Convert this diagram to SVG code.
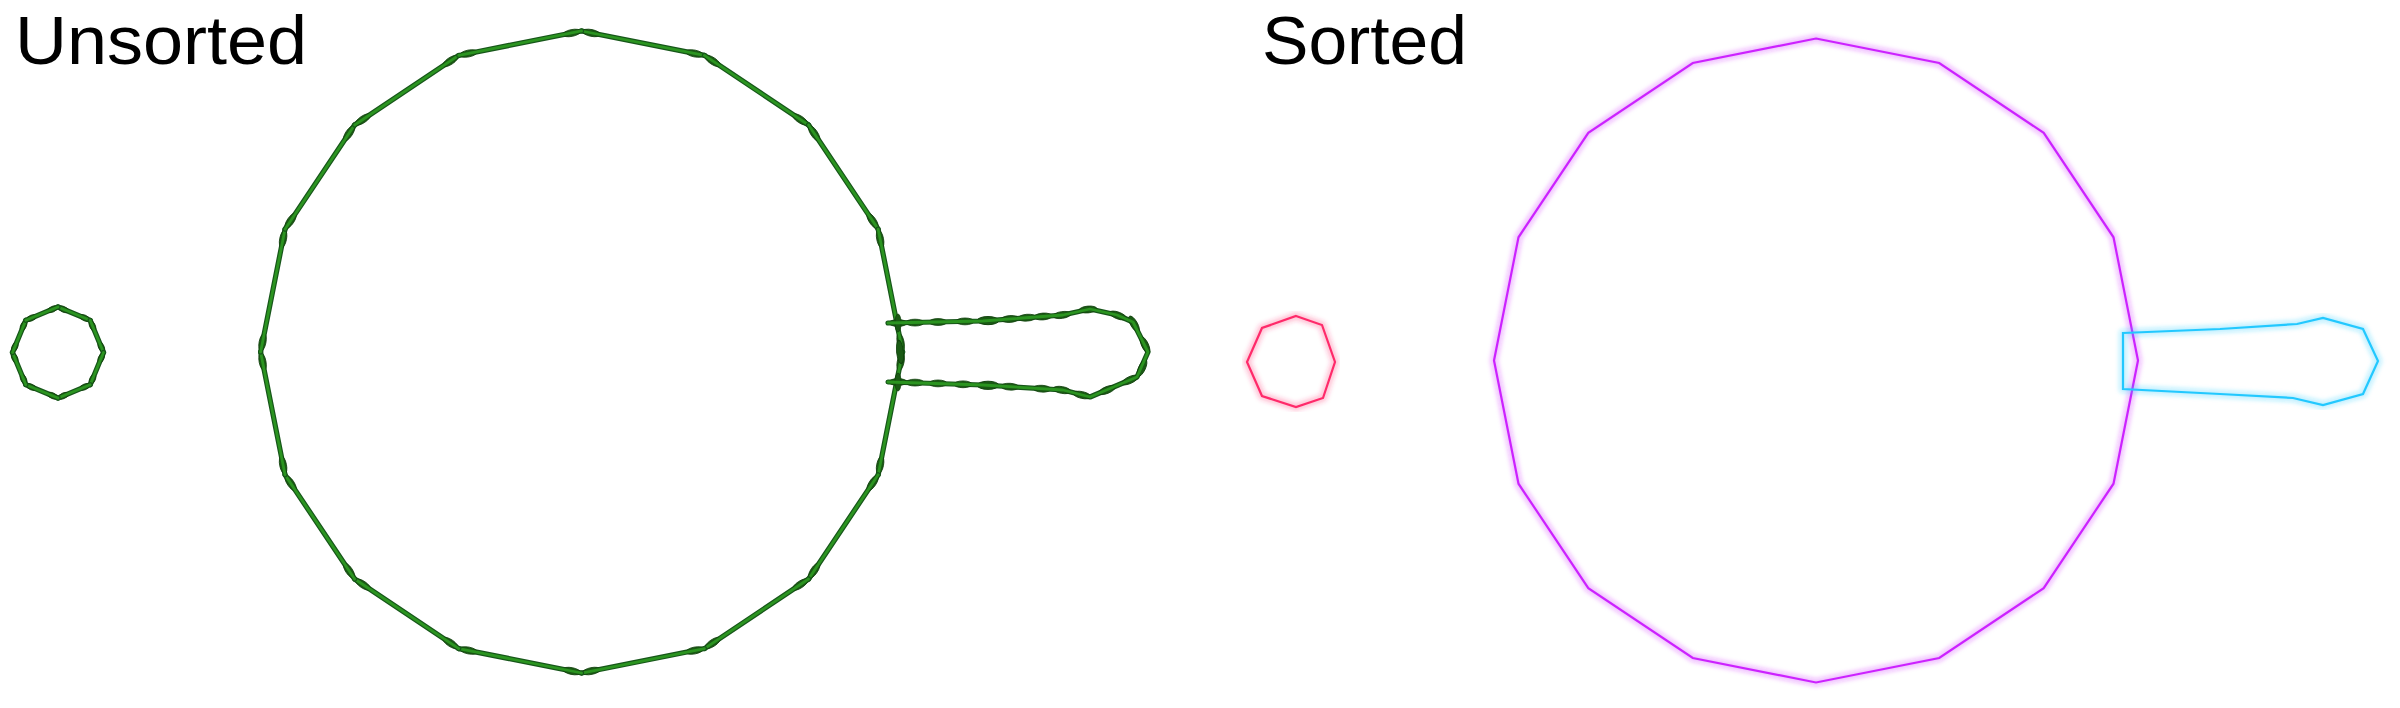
<svg xmlns="http://www.w3.org/2000/svg" xmlns:xlink="http://www.w3.org/1999/xlink" width="2400" height="708" viewBox="0 0 2400 708">
<style>
.title{font-family:"Liberation Sans",Arial,sans-serif;font-size:68px;fill:#000}
.gdark{fill:none;stroke:#17561a;stroke-width:5.2;stroke-linejoin:round;stroke-linecap:round}
.glite{fill:none;stroke:#2b9420;stroke-width:2.8;stroke-linejoin:round;stroke-linecap:round}
.blob{fill:#1a5a14;stroke:#10400c;stroke-width:0.8}
.glow{fill:none;stroke-width:8;stroke-opacity:0.28;stroke-linejoin:round}
.line{fill:none;stroke-width:2.2;stroke-linejoin:miter}
.purple{stroke:#cc22ff}
.red{stroke:#ff2a6a}
.cyan{stroke:#22c8ff}
</style>
<defs>
<filter id="blur" x="-5%" y="-5%" width="110%" height="110%"><feGaussianBlur stdDeviation="2.2"/></filter>
<ellipse id="b" cx="0" cy="0" rx="9" ry="3.4" class="blob"/>
<ellipse id="bs" cx="0" cy="0" rx="5" ry="2.8" class="blob"/>
<g id="edgeBig">
<path d="M0,-321 L122.8,-296.6" class="gdark"/>
<use xlink:href="#b" transform="translate(9.8,-319.05) rotate(11.25)"/>
<use xlink:href="#b" transform="translate(113,-298.5) rotate(11.25)"/>
<path d="M0,-321 L122.8,-296.6" class="glite"/>
</g>
<g id="edgeSmall">
<path d="M0,-45.5 L32.2,-32.2" class="gdark"/>
<use xlink:href="#bs" transform="translate(5.5,-43.2) rotate(22.5)"/>
<use xlink:href="#bs" transform="translate(26.7,-34.5) rotate(22.5)"/>
<path d="M0,-45.5 L32.2,-32.2" class="glite"/>
</g>
</defs>
<rect width="2400" height="708" fill="#fff"/>

<g id="title-unsorted"><text class="title" x="15" y="64" textLength="292" lengthAdjust="spacingAndGlyphs">Unsorted</text></g>
<g id="title-sorted"><text class="title" x="1262" y="64" textLength="205" lengthAdjust="spacingAndGlyphs">Sorted</text></g>

<g id="unsorted-small">
<g transform="translate(58,352.5)">
<use xlink:href="#edgeSmall"/>
<use xlink:href="#edgeSmall" transform="rotate(45)"/>
<use xlink:href="#edgeSmall" transform="rotate(90)"/>
<use xlink:href="#edgeSmall" transform="rotate(135)"/>
<use xlink:href="#edgeSmall" transform="rotate(180)"/>
<use xlink:href="#edgeSmall" transform="rotate(225)"/>
<use xlink:href="#edgeSmall" transform="rotate(270)"/>
<use xlink:href="#edgeSmall" transform="rotate(315)"/>
</g>
</g>

<g id="unsorted-big">
<g transform="translate(581.6,352)">
<use xlink:href="#edgeBig"/>
<use xlink:href="#edgeBig" transform="rotate(22.5)"/>
<use xlink:href="#edgeBig" transform="rotate(45)"/>
<use xlink:href="#edgeBig" transform="rotate(67.5)"/>
<use xlink:href="#edgeBig" transform="rotate(90)"/>
<use xlink:href="#edgeBig" transform="rotate(112.5)"/>
<use xlink:href="#edgeBig" transform="rotate(135)"/>
<use xlink:href="#edgeBig" transform="rotate(157.5)"/>
<use xlink:href="#edgeBig" transform="rotate(180)"/>
<use xlink:href="#edgeBig" transform="rotate(202.5)"/>
<use xlink:href="#edgeBig" transform="rotate(225)"/>
<use xlink:href="#edgeBig" transform="rotate(247.5)"/>
<use xlink:href="#edgeBig" transform="rotate(270)"/>
<use xlink:href="#edgeBig" transform="rotate(292.5)"/>
<use xlink:href="#edgeBig" transform="rotate(315)"/>
<use xlink:href="#edgeBig" transform="rotate(337.5)"/>
</g>
</g>

<g id="unsorted-tail">
<path d="M888,323 L983,321 L1063,315 L1090,309 L1117,315 L1133,322 L1148,352 L1137,377 L1090,397 L1063,390 L983,385 L888,382" class="gdark"/>
<use xlink:href="#b" transform="translate(898,323)"/>
<use xlink:href="#b" transform="translate(898,323) rotate(90) scale(1,0.9)"/>
<use xlink:href="#b" transform="translate(898,382)"/>
<use xlink:href="#b" transform="translate(898,382) rotate(90) scale(1,0.9)"/>
<use xlink:href="#b" transform="translate(900,352) rotate(84) scale(1.3,1)"/>
<use xlink:href="#b" transform="translate(915,322.6)"/>
<use xlink:href="#b" transform="translate(938,322)"/>
<use xlink:href="#b" transform="translate(965,321.4)"/>
<use xlink:href="#b" transform="translate(988,320.6) scale(1.2,1.2)"/>
<use xlink:href="#b" transform="translate(1010,319) rotate(-4)"/>
<use xlink:href="#b" transform="translate(1027,317.7) rotate(-4)"/>
<use xlink:href="#b" transform="translate(1043,316.5) rotate(-4)"/>
<use xlink:href="#b" transform="translate(1062,315) rotate(-8)"/>
<use xlink:href="#b" transform="translate(1088,309.5) rotate(-5)"/>
<use xlink:href="#b" transform="translate(1118,315.5) rotate(20)"/>
<use xlink:href="#b" transform="translate(1134,324) rotate(60)"/>
<use xlink:href="#b" transform="translate(1145,345) rotate(65)"/>
<use xlink:href="#b" transform="translate(1142,368) rotate(-65)"/>
<use xlink:href="#b" transform="translate(915,382.6)"/>
<use xlink:href="#b" transform="translate(938,383.4)"/>
<use xlink:href="#b" transform="translate(963,384.3)"/>
<use xlink:href="#b" transform="translate(988,385.3) scale(1.2,1.2)"/>
<use xlink:href="#b" transform="translate(1010,386.7) rotate(3)"/>
<use xlink:href="#b" transform="translate(1042,388.7) rotate(3)"/>
<use xlink:href="#b" transform="translate(1062,390) rotate(10)"/>
<use xlink:href="#b" transform="translate(1082,395) rotate(12)"/>
<use xlink:href="#b" transform="translate(1107,390) rotate(-22)"/>
<use xlink:href="#b" transform="translate(1130,380) rotate(-25)"/>
<path d="M888,323 L983,321 L1063,315 L1090,309 L1117,315 L1133,322 L1148,352 L1137,377 L1090,397 L1063,390 L983,385 L888,382" class="glite"/>
</g>

<g id="sorted-small">
<polygon points="1296,316 1322,325 1335,362 1323,398 1296,407 1262,396 1247,362 1262,328" class="glow red" filter="url(#blur)"/>
<polygon points="1296,316 1322,325 1335,362 1323,398 1296,407 1262,396 1247,362 1262,328" class="line red"/>
</g>

<g id="sorted-big">
<polygon points="1816,38.5 1939.2,63 2043.7,132.8 2113.5,237.3 2138,360.5 2113.5,483.7 2043.7,588.2 1939.2,658 1816,682.5 1692.8,658 1588.3,588.2 1518.5,483.7 1494,360.5 1518.5,237.3 1588.3,132.8 1692.8,63" class="glow purple" filter="url(#blur)"/>
<polygon points="1816,38.5 1939.2,63 2043.7,132.8 2113.5,237.3 2138,360.5 2113.5,483.7 2043.7,588.2 1939.2,658 1816,682.5 1692.8,658 1588.3,588.2 1518.5,483.7 1494,360.5 1518.5,237.3 1588.3,132.8 1692.8,63" class="line purple"/>
</g>

<g id="sorted-tail">
<polygon points="2123,333 2220,329 2297,324 2323,318 2363,329 2378,361 2363,394 2323,405 2293,398 2220,394 2123,389" class="glow cyan" filter="url(#blur)"/>
<polygon points="2123,333 2220,329 2297,324 2323,318 2363,329 2378,361 2363,394 2323,405 2293,398 2220,394 2123,389" class="line cyan"/>
</g>

<g id="connectors"/>
</svg>
